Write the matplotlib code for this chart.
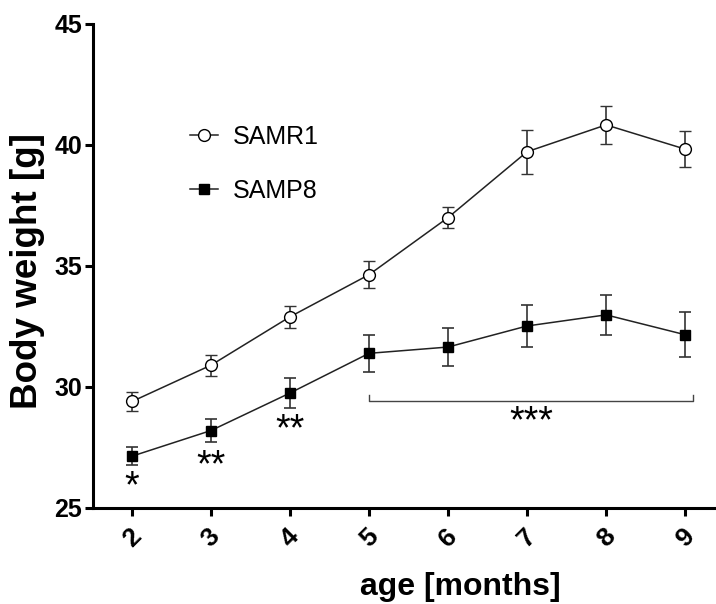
import matplotlib
matplotlib.use("Agg")
from matplotlib import pyplot as plt

plt.rcParams["font.family"] = ["Liberation Sans", "DejaVu Sans"]

# age in months
months = [2, 3, 4, 5, 6, 7, 8, 9]

# body weight [g], mean and error
samr1 = [29.4, 30.9, 32.9, 34.64, 37.0, 39.72, 40.83, 39.83]
samr1_err = [0.41, 0.43, 0.45, 0.56, 0.43, 0.9, 0.78, 0.75]
samp8 = [27.14, 28.2, 29.75, 31.39, 31.65, 32.52, 32.98, 32.16]
samp8_err = [0.36, 0.47, 0.62, 0.76, 0.78, 0.88, 0.82, 0.92]

# significance marks
star_x = [2, 3, 4]
star_y = [25.84, 26.73, 28.22]
star_txt = ["*", "**", "**"]
bracket_x = [5.0, 9.1]
bracket_y = [29.43, 29.66]
bracket_star_y = 28.52

fig = plt.figure(figsize=(7.16, 6.04), dpi=100)
ax = fig.add_axes([0.1292, 0.159, 0.8717, 0.8013])

r1 = ax.errorbar(months, samr1, yerr=samr1_err, color="#222222", lw=1.1,
                 marker="o", ms=8.5, mfc="white", mec="black", mew=1.0,
                 capsize=4, elinewidth=1.2, capthick=1.2, ecolor="#333333",
                 zorder=3)
p8 = ax.errorbar(months, samp8, yerr=samp8_err, color="#222222", lw=1.1,
                 marker="s", ms=7.5, mfc="black", mec="black",
                 capsize=4, elinewidth=1.2, capthick=1.2, ecolor="#333333",
                 zorder=3)

for x, y, t in zip(star_x, star_y, star_txt):
    ax.text(x, y, t, ha="center", va="center", fontsize=27)

# bracket for months 5-9
ax.plot([bracket_x[0], bracket_x[0], bracket_x[1], bracket_x[1]],
        [bracket_y[1], bracket_y[0], bracket_y[0], bracket_y[1]],
        color="#444444", lw=1.0)
ax.text(sum(bracket_x) / 2, bracket_star_y, "***", ha="center", va="center",
        fontsize=27)

ax.set_xlim(1.5, 9.4)
ax.set_ylim(25, 45)
ax.set_xticks(months)
ax.set_yticks([25, 30, 35, 40, 45])
ax.spines["top"].set_visible(False)
ax.spines["right"].set_visible(False)
ax.spines["left"].set_linewidth(2.2)
ax.spines["bottom"].set_linewidth(2.2)
ax.tick_params(width=2.2, length=5.5)
ax.tick_params(axis="x", pad=6)
ax.tick_params(axis="y", pad=2)
for lab in ax.get_xticklabels():
    lab.set_rotation(45)
    lab.set_fontsize(19)
    lab.set_fontweight("bold")
for lab in ax.get_yticklabels():
    lab.set_fontsize(18)
    lab.set_fontweight("bold")

ax.set_ylabel("Body weight [g]", fontsize=26.5, fontweight="bold")
ax.yaxis.set_label_coords(-0.076, 0.49)
fig.text(460 / 716, 1 - 587 / 604, "age [months]", fontsize=23,
         fontweight="bold", ha="center", va="center")

ax.legend([r1[0], p8[0]], ["SAMR1", "SAMP8"], loc="upper left",
          bbox_to_anchor=(190 / 716, 1 - 125 / 604),
          bbox_transform=fig.transFigure, frameon=False, fontsize=18,
          handlelength=1.1, handletextpad=0.6, labelspacing=1.2,
          borderpad=0, borderaxespad=0)

fig.savefig("out.png", dpi=100)
